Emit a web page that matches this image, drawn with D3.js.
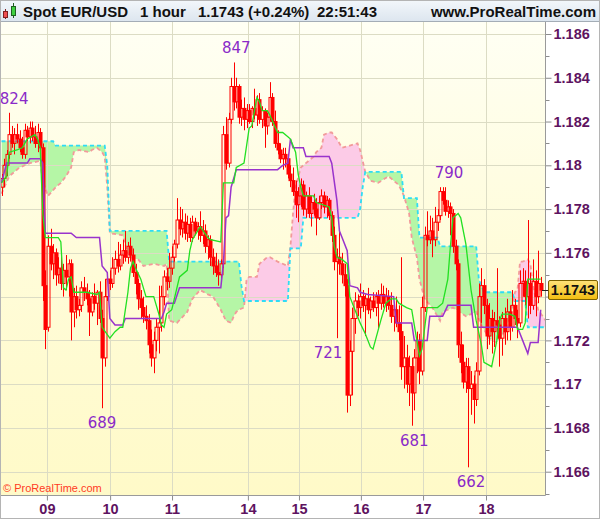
<!DOCTYPE html>
<html>
<head>
<meta charset="utf-8">
<script src="https://cdnjs.cloudflare.com/ajax/libs/d3/7.8.5/d3.min.js"></script>
<style>
    html, body { margin: 0; padding: 0; background: #ffffff; }
    #chart { width: 600px; height: 519px; }
    svg { display: block; }
</style>
</head>
<body>
<div id="chart"></div>
<script>
// Hourly EUR/USD candles, stored as pips above 1.1600
const BASE_PRICE = 1.16;
const PIP = 0.0001;

const candleOpen = [
    190, 194, 200, 205, 214, 210, 214, 212, 208, 205,
    216, 213, 217, 213, 210, 215, 208, 145, 126, 163,
    155, 160, 150, 153, 146, 152, 149, 155, 133, 140,
    134, 136, 144, 142, 139, 133, 140, 137, 142, 130,
    112, 140, 148, 146, 153, 157, 154, 159, 161, 158,
    163, 159, 151, 146, 139, 135, 131, 129, 118, 112,
    120, 126, 128, 140, 149, 147, 153, 158, 164, 175,
    171, 174, 169, 173, 167, 174, 170, 172, 168, 170,
    163, 166, 158, 154, 151, 150, 155, 214, 201, 221,
    236, 229, 236, 222, 226, 221, 225, 220, 226, 223,
    230, 221, 225, 218, 222, 231, 220, 210, 207, 203,
    205, 203, 196, 193, 188, 182, 186, 191, 180, 186,
    178, 183, 180, 176, 183, 186, 181, 184, 177, 168,
    156, 158, 155, 150, 145, 95, 115, 130, 138, 135,
    140, 136, 139, 134, 138, 135, 140, 137, 141, 137,
    140, 136, 131, 134, 128, 124, 108, 112, 100, 108,
    96, 112, 120, 106, 135, 168, 166, 170, 166, 174,
    177, 188, 184, 179, 181, 178, 163, 155, 118, 110,
    101, 108, 98, 100, 93, 106, 140, 145, 136, 122,
    130, 124, 129, 127, 121, 130, 124, 133, 126, 136,
    130, 128, 146, 147, 140, 146, 136, 147, 140, 146
];
const candleHigh = [
    196, 203, 207, 224, 218, 217, 219, 216, 213, 219,
    218, 220, 220, 218, 219, 217, 210, 152, 168, 171,
    164, 162, 158, 160, 155, 159, 157, 157, 144, 145,
    139, 147, 149, 146, 143, 142, 146, 143, 147, 134,
    148, 150, 152, 158, 161, 165, 164, 166, 170, 165,
    167, 162, 155, 148, 143, 140, 136, 132, 125, 124,
    130, 145, 145, 152, 153, 160, 163, 166, 185, 181,
    180, 178, 177, 176, 177, 176, 174, 179, 175, 173,
    168, 168, 162, 160, 157, 157, 218, 222, 224, 240,
    247, 240, 237, 230, 231, 228, 228, 227, 235, 232,
    233, 227, 226, 224, 238, 233, 225, 216, 210, 208,
    208, 205, 200, 199, 193, 190, 194, 193, 188, 190,
    186, 187, 185, 186, 189, 188, 186, 185, 179, 172,
    162, 170, 160, 155, 148, 120, 135, 142, 141, 146,
    143, 141, 144, 140, 142, 142, 143, 146, 145, 144,
    143, 142, 137, 140, 136, 158, 122, 118, 113, 112,
    116, 124, 123, 140, 172, 179, 177, 176, 181, 180,
    190, 190, 190, 184, 183, 180, 166, 157, 124, 118,
    112, 112, 106, 104, 110, 146, 153, 148, 139, 137,
    134, 133, 153, 131, 133, 135, 139, 136, 143, 139,
    134, 152, 153, 152, 175, 151, 157, 152, 161, 149
];
const candleLow = [
    186, 190, 195, 203, 208, 205, 210, 206, 203, 203,
    211, 210, 211, 208, 206, 205, 138, 116, 124, 152,
    148, 145, 146, 143, 140, 143, 140, 120, 126, 130,
    131, 133, 138, 136, 122, 131, 134, 127, 128, 89,
    108, 138, 143, 144, 150, 151, 152, 155, 156, 155,
    156, 149, 141, 134, 130, 128, 125, 114, 108, 105,
    115, 114, 124, 136, 143, 144, 150, 156, 162, 168,
    167, 166, 165, 165, 165, 168, 166, 165, 164, 160,
    157, 154, 150, 149, 145, 147, 153, 198, 199, 219,
    225, 226, 219, 218, 216, 217, 219, 217, 221, 218,
    219, 217, 208, 214, 220, 218, 208, 205, 201, 198,
    199, 194, 190, 186, 176, 174, 181, 177, 176, 176,
    172, 177, 168, 175, 180, 178, 176, 175, 165, 152,
    121, 150, 146, 140, 87, 90, 95, 123, 131, 130,
    133, 122, 132, 130, 133, 131, 125, 134, 135, 133,
    134, 128, 124, 126, 120, 102, 98, 96, 90, 81,
    88, 105, 100, 104, 133, 163, 164, 158, 163, 170,
    175, 182, 177, 176, 168, 160, 152, 112, 105, 98,
    96, 62, 86, 82, 90, 104, 128, 132, 116, 118,
    114, 117, 122, 108, 113, 118, 120, 120, 124, 127,
    121, 126, 140, 136, 130, 132, 134, 131, 137, 140
];
const candleClose = [
    194, 200, 205, 214, 210, 214, 212, 208, 205, 216,
    213, 217, 213, 210, 215, 208, 145, 125, 163, 155,
    160, 150, 153, 146, 152, 149, 155, 133, 140, 134,
    136, 144, 142, 139, 133, 140, 137, 142, 130, 112,
    140, 148, 146, 153, 157, 154, 159, 161, 158, 163,
    159, 151, 146, 139, 135, 131, 129, 118, 112, 120,
    126, 128, 140, 149, 147, 153, 158, 164, 175, 171,
    174, 169, 173, 167, 174, 170, 172, 168, 170, 163,
    166, 158, 154, 151, 150, 155, 214, 201, 221, 236,
    229, 236, 222, 226, 221, 225, 220, 226, 223, 230,
    221, 225, 218, 222, 231, 220, 210, 207, 203, 205,
    203, 196, 193, 188, 182, 186, 191, 180, 186, 178,
    183, 180, 176, 183, 186, 181, 184, 177, 168, 156,
    158, 155, 150, 145, 95, 115, 130, 138, 135, 140,
    136, 139, 134, 138, 135, 140, 137, 141, 137, 140,
    136, 131, 134, 128, 124, 108, 112, 100, 108, 96,
    112, 120, 106, 135, 168, 166, 170, 166, 174, 177,
    188, 184, 179, 181, 178, 163, 155, 118, 110, 101,
    108, 98, 100, 93, 106, 140, 145, 136, 122, 130,
    124, 129, 127, 121, 130, 124, 133, 126, 136, 130,
    128, 146, 147, 140, 146, 136, 147, 140, 146, 143
];

// Ichimoku lines: [bar index, pips above 1.1600]
const tenkanSen = [
    [0, 192], [2, 195], [3, 206], [6, 207], [8, 208], [10, 212], [13, 214], [14, 212], [15, 208],
    [16, 178], [17, 167], [22, 167], [23, 165], [24, 144], [25, 143], [26, 148], [27, 149], [28, 142],
    [33, 142], [37, 141], [38, 142], [39, 126], [42, 121], [44, 124], [46, 126], [47, 126], [49, 142],
    [50, 153], [51, 156], [52, 153], [54, 148], [56, 140], [59, 140], [61, 132], [62, 127], [63, 126],
    [64, 132], [66, 134], [69, 149], [72, 152], [73, 161], [74, 166], [77, 172], [80, 167], [81, 166],
    [85, 165], [86, 192], [90, 192], [91, 199], [94, 201], [96, 217], [97, 218], [99, 231], [100, 229],
    [101, 225], [103, 225], [104, 223], [107, 215], [109, 215], [111, 213], [112, 212], [114, 206],
    [115, 196], [116, 190], [117, 186], [121, 186], [122, 183], [127, 181], [128, 176], [129, 163],
    [130, 158], [132, 157], [134, 155], [135, 140], [139, 128], [141, 123], [143, 117], [144, 116],
    [147, 129], [149, 137], [151, 139], [153, 139], [154, 137], [157, 135], [159, 134], [161, 120],
    [162, 113], [163, 116], [165, 135], [169, 135], [171, 137], [173, 148], [174, 163], [175, 176],
    [177, 178], [178, 176], [180, 164], [182, 143], [184, 129], [186, 118], [187, 110], [190, 108],
    [192, 120], [193, 129], [194, 132], [197, 132], [199, 131], [200, 125], [202, 125], [203, 128],
    [204, 148], [206, 148], [209, 148]
];
const kijunSen = [
    [0, 192], [2, 201], [10, 201], [11, 203], [15, 203], [16, 201], [17, 169], [27, 169], [29, 167],
    [38, 167], [39, 154], [41, 151], [42, 130], [44, 127], [47, 127], [48, 130], [62, 130], [63, 133],
    [64, 137], [67, 137], [69, 144], [85, 144], [86, 155], [87, 176], [88, 177], [89, 190], [91, 198],
    [107, 198], [109, 200], [111, 201], [112, 212], [113, 208], [117, 208], [118, 204], [127, 204],
    [128, 201], [130, 184], [131, 170], [132, 167], [134, 161], [135, 145], [138, 144], [139, 142],
    [142, 141], [152, 140], [153, 128], [159, 128], [160, 120], [165, 120], [166, 131], [171, 131],
    [173, 136], [182, 136], [183, 126], [200, 126], [202, 120], [204, 114], [205, 119], [208, 119],
    [209, 134]
];
const senkouSpanA = [
    [0, 187], [3, 195], [7, 199], [11, 201], [15, 202], [16, 193], [18, 186], [21, 190], [23, 192],
    [25, 195], [27, 199], [28, 206], [30, 207], [34, 206], [35, 207], [37, 208], [39, 206], [40, 204],
    [41, 190], [42, 169],
    [47, 168], [49, 160], [50, 158], [53, 157], [55, 154], [59, 155], [63, 154], [64, 155], [65, 129],
    [68, 128], [72, 133], [74, 139], [77, 143], [80, 141], [82, 140], [85, 134], [87, 129], [89, 128],
    [90, 131], [91, 133], [92, 134], [94, 135], [95, 148], [96, 149], [99, 149], [100, 155], [103, 158],
    [104, 158], [107, 156], [111, 154], [112, 163], [113, 178], [114, 190], [116, 199], [118, 201],
    [119, 202], [121, 204], [122, 206], [124, 208], [125, 214], [127, 215], [128, 215], [130, 212],
    [132, 208], [135, 209], [138, 210], [139, 207], [140, 202], [141, 197], [143, 193], [146, 192],
    [150, 195], [152, 193], [154, 191], [156, 186], [158, 178], [159, 167], [161, 158], [162, 148],
    [164, 139], [167, 135], [170, 129], [171, 133], [175, 135], [180, 131], [184, 133], [186, 127],
    [189, 121], [192, 119], [194, 122], [196, 127], [198, 134], [199, 142], [200, 143], [201, 156],
    [202, 156], [204, 157], [205, 155], [206, 145], [208, 134], [211, 129]
];
const senkouSpanB = [
    [0, 211], [20, 211], [21, 209], [40, 209], [41, 200], [42, 170],
    [64, 170], [65, 156], [92, 156], [93, 145], [94, 138], [111, 138], [112, 162], [116, 162],
    [117, 176], [138, 176], [139, 180], [140, 190], [141, 197], [155, 197], [156, 185], [161, 185],
    [162, 167], [169, 167], [170, 163], [184, 163], [185, 148], [187, 142], [198, 142], [199, 138],
    [203, 138], [204, 126], [211, 126]
];

const dayLabels = ["09", "10", "11", "14", "15", "16", "17", "18"];
const dayStartBars = [17.6, 42.1, 66.1, 95.5, 115.3, 139.3, 163.4, 187.8];

const priceTicks = [1.166, 1.168, 1.17, 1.172, 1.174, 1.176, 1.178, 1.18, 1.182, 1.184, 1.186];
const minorPriceTicks = [1.165, 1.167, 1.169, 1.171, 1.173, 1.175, 1.177, 1.179, 1.181, 1.183, 1.185];

const swingLabels = ["824", "847", "689", "721", "681", "790", "662"];
const swingPrices = [1.1824, 1.1847, 1.1689, 1.1721, 1.1681, 1.1790, 1.1662];
const swingBars = [4.9, 91, 39, 126.6, 160, 173.5, 182];
const swingKinds = ["high", "high", "low", "low", "low", "high", "low"];

const headerTexts = ["Spot EUR/USD", "1 hour", "1.1743 (+0.24%)", "22:51:43"];
const headerSite = "www.ProRealTime.com";
const copyrightText = "\u00a9 ProRealTime.com";

(function () {
    "use strict";

    const width = 600;
    const height = 519;
    const plot = { left: 1, right: 545, top: 22, bottom: 495 };
    const labelColor = "#5e1360";
    const sansFont = "'Liberation Sans', Arial, sans-serif";

    const toPrice = pips => BASE_PRICE + pips * PIP;
    const lastPrice = toPrice(candleClose[candleClose.length - 1]);

    const xScale = d3.scaleLinear()
        .domain([0, 209])
        .range([1.5, 540.7]);

    const yScale = d3.scaleLinear()
        .domain([1.166, 1.186])
        .range([471.7, 34]);

    function addGradient(defs, id, stops) {
        const grad = defs.append("linearGradient")
            .attr("id", id)
            .attr("x1", 0).attr("y1", 0)
            .attr("x2", 0).attr("y2", 1);
        stops.forEach((color, i) => {
            grad.append("stop")
                .attr("offset", i / (stops.length - 1))
                .attr("stop-color", color);
        });
    }

    function drawHeader(svg) {
        const header = svg.append("g").attr("class", "header");

        header.append("rect")
            .attr("width", width)
            .attr("height", 21)
            .attr("fill", "url(#header-bg)");

        header.append("line")
            .attr("x1", 0).attr("x2", width)
            .attr("y1", 21.5).attr("y2", 21.5)
            .attr("stroke", "#a4adb6");

        // small candlestick icon
        const icon = header.append("g").attr("class", "icon");
        icon.append("line").attr("x1", 5.5).attr("x2", 5.5).attr("y1", 9).attr("y2", 19).attr("stroke", "#802020");
        icon.append("rect").attr("x", 3.5).attr("y", 11.5).attr("width", 4).attr("height", 6)
            .attr("fill", "#f05050").attr("stroke", "#802020");
        icon.append("line").attr("x1", 13.5).attr("x2", 13.5).attr("y1", 3).attr("y2", 18).attr("stroke", "#206020");
        icon.append("rect").attr("x", 11.5).attr("y", 6.5).attr("width", 4).attr("height", 9)
            .attr("fill", "#40d040").attr("stroke", "#206020");

        const positions = [23, 140, 198, 317];
        headerTexts.forEach((t, i) => {
            header.append("text")
                .attr("x", positions[i])
                .attr("y", 17)
                .attr("font-family", sansFont)
                .attr("font-weight", "bold")
                .attr("font-size", "15px")
                .attr("fill", "#111")
                .text(t);
        });

        header.append("text")
            .attr("x", 596)
            .attr("y", 17)
            .attr("text-anchor", "end")
            .attr("font-family", sansFont)
            .attr("font-weight", "bold")
            .attr("font-size", "15px")
            .attr("fill", "#111")
            .text(headerSite);
    }

    function drawGrid(canvas) {
        const grid = canvas.append("g")
            .attr("class", "grid")
            .attr("stroke", "#dcdcc4")
            .attr("stroke-width", 1);

        grid.selectAll(".h")
            .data(priceTicks)
            .enter()
            .append("line")
            .attr("x1", plot.left)
            .attr("x2", plot.right)
            .attr("y1", d => Math.round(yScale(d)) + 0.5)
            .attr("y2", d => Math.round(yScale(d)) + 0.5);

        grid.selectAll(".v")
            .data(dayStartBars)
            .enter()
            .append("line")
            .attr("x1", d => Math.round(xScale(d)) + 0.5)
            .attr("x2", d => Math.round(xScale(d)) + 0.5)
            .attr("y1", plot.top)
            .attr("y2", plot.bottom);
    }

    function drawCloud(canvas, defs) {
        const areaToTop = d3.area()
            .x(d => xScale(d[0]))
            .y0(plot.top - 5)
            .y1(d => yScale(toPrice(d[1])));

        const areaToBottom = d3.area()
            .x(d => xScale(d[0]))
            .y0(plot.bottom + 5)
            .y1(d => yScale(toPrice(d[1])));

        defs.append("clipPath").attr("id", "below-span-b")
            .append("path").attr("d", areaToBottom(senkouSpanB));
        defs.append("clipPath").attr("id", "below-span-a")
            .append("path").attr("d", areaToBottom(senkouSpanA));

        const cloud = canvas.append("g").attr("class", "cloud");

        // span B above span A -> green
        cloud.append("path")
            .attr("d", areaToTop(senkouSpanA))
            .attr("clip-path", "url(#below-span-b)")
            .attr("fill", "#b5f6a6");

        // span A above span B -> pink
        cloud.append("path")
            .attr("d", areaToTop(senkouSpanB))
            .attr("clip-path", "url(#below-span-a)")
            .attr("fill", "#fccbe7");
    }

    function drawSpans(canvas) {
        const line = d3.line()
            .x(d => xScale(d[0]))
            .y(d => yScale(toPrice(d[1])));

        const spans = canvas.append("g")
            .attr("class", "spans")
            .attr("fill", "none")
            .attr("stroke-width", 1.8)
            .attr("stroke-dasharray", "4,3");

        spans.append("path")
            .attr("d", line(senkouSpanA))
            .attr("stroke", "#f29a9a");

        spans.append("path")
            .attr("d", line(senkouSpanB))
            .attr("stroke", "#2fdcf5");
    }

    function drawCandles(canvas) {
        const candles = canvas.append("g")
            .attr("class", "candles")
            .attr("stroke", "#ff0000")
            .attr("stroke-width", 1);

        candleClose.forEach((c, i) => {
            const o = candleOpen[i];
            const x = Math.round(xScale(i)) + 0.5;
            const yHigh = yScale(toPrice(candleHigh[i]));
            const yLow = yScale(toPrice(candleLow[i]));
            const yTop = yScale(toPrice(Math.max(o, c)));
            const yBottom = yScale(toPrice(Math.min(o, c)));
            const g = candles.append("g");

            g.append("line")
                .attr("x1", x).attr("x2", x)
                .attr("y1", yHigh).attr("y2", yTop);
            g.append("line")
                .attr("x1", x).attr("x2", x)
                .attr("y1", yBottom).attr("y2", yLow);
            g.append("rect")
                .attr("x", x - 1.5)
                .attr("y", yTop)
                .attr("width", 3)
                .attr("height", Math.max(1, yBottom - yTop))
                .attr("fill", c < o ? "#ff0000" : "none");
        });
    }

    function drawLines(canvas) {
        const line = d3.line()
            .x(d => xScale(d[0]))
            .y(d => yScale(toPrice(d[1])));

        canvas.append("path")
            .attr("class", "kijun")
            .attr("d", line(kijunSen))
            .attr("fill", "none")
            .attr("stroke", "#9933cc")
            .attr("stroke-width", 1.5);

        canvas.append("path")
            .attr("class", "tenkan")
            .attr("d", line(tenkanSen))
            .attr("fill", "none")
            .attr("stroke", "#22e022")
            .attr("stroke-width", 1.3);
    }

    function drawSwingLabels(canvas) {
        canvas.append("g")
            .attr("class", "swings")
            .selectAll("text")
            .data(swingLabels)
            .enter()
            .append("text")
            .attr("x", (d, i) => xScale(swingBars[i]))
            .attr("y", (d, i) => yScale(swingPrices[i]) + (swingKinds[i] === "high" ? -9 : 20))
            .attr("text-anchor", "middle")
            .attr("font-family", "'DejaVu Sans', sans-serif")
            .attr("font-size", "15px")
            .attr("fill", "#8a2ac8")
            .text(d => d);
    }

    function drawAxes(svg) {
        const yAxis = d3.axisRight(yScale)
            .tickValues(priceTicks)
            .tickSize(6)
            .tickPadding(2)
            .tickFormat(d3.format(".3~f"));

        const yAxisGroup = svg.append("g")
            .attr("class", "axis y-axis")
            .attr("transform", `translate(${plot.right + 0.5},0)`)
            .call(yAxis);

        yAxisGroup.select(".domain").remove();
        yAxisGroup.selectAll(".tick line").attr("stroke", "#8c8c8c");
        yAxisGroup.selectAll(".tick text")
            .attr("font-family", sansFont)
            .attr("font-weight", "bold")
            .attr("font-size", "14.5px")
            .attr("fill", labelColor);

        // the tick label sitting under the last-price box is hidden by it
        yAxisGroup.selectAll(".tick")
            .filter(d => Math.abs(yScale(d) - yScale(lastPrice)) < 12)
            .select("text")
            .remove();

        yAxisGroup.selectAll(".minor")
            .data(minorPriceTicks)
            .enter()
            .append("line")
            .attr("class", "minor")
            .attr("x1", 0).attr("x2", 4)
            .attr("y1", d => Math.round(yScale(d)) + 0.5)
            .attr("y2", d => Math.round(yScale(d)) + 0.5)
            .attr("stroke", "#8c8c8c");

        const xAxis = d3.axisBottom(xScale)
            .tickValues(dayStartBars)
            .tickSize(5)
            .tickPadding(3)
            .tickFormat((d, i) => dayLabels[i]);

        const xAxisGroup = svg.append("g")
            .attr("class", "axis x-axis")
            .attr("transform", `translate(0,${plot.bottom + 0.5})`)
            .call(xAxis);

        xAxisGroup.select(".domain").remove();
        xAxisGroup.selectAll(".tick line").attr("stroke", "#8c8c8c");
        xAxisGroup.selectAll(".tick text")
            .attr("font-family", sansFont)
            .attr("font-weight", "bold")
            .attr("font-size", "14.5px")
            .attr("fill", labelColor);

        svg.append("line")
            .attr("x1", plot.right + 0.5).attr("x2", plot.right + 0.5)
            .attr("y1", plot.top).attr("y2", plot.bottom + 0.5)
            .attr("stroke", "#9a9a9a");
        svg.append("line")
            .attr("x1", 0).attr("x2", plot.right + 0.5)
            .attr("y1", plot.bottom + 0.5).attr("y2", plot.bottom + 0.5)
            .attr("stroke", "#9a9a9a");
        svg.append("line")
            .attr("x1", 0.5).attr("x2", 0.5)
            .attr("y1", plot.top).attr("y2", plot.bottom)
            .attr("stroke", "#a8a8a8");
    }

    function drawLastPrice(svg) {
        const y = Math.round(yScale(lastPrice));

        svg.append("line")
            .attr("x1", 542).attr("x2", 549)
            .attr("y1", y + 0.5).attr("y2", y + 0.5)
            .attr("stroke", "#222");

        svg.append("rect")
            .attr("x", 548.5)
            .attr("y", y - 9.5)
            .attr("width", 49)
            .attr("height", 19)
            .attr("rx", 1.5)
            .attr("fill", "url(#price-bg)")
            .attr("stroke", "#7d6200");

        svg.append("text")
            .attr("x", 573)
            .attr("y", y + 5)
            .attr("text-anchor", "middle")
            .attr("font-family", sansFont)
            .attr("font-weight", "bold")
            .attr("font-size", "14.5px")
            .attr("fill", "#111")
            .text(d3.format(".4f")(lastPrice));
    }

    function drawChart(selection) {
        const svg = selection.append("svg")
            .attr("width", width)
            .attr("height", height);

        const defs = svg.append("defs");
        addGradient(defs, "header-bg", ["#f3f7fb", "#dde6ef"]);
        addGradient(defs, "plot-bg", ["#fffff4", "#fffcd9", "#fffac8"]);
        addGradient(defs, "price-bg", ["#ffe27a", "#f2bd10"]);

        defs.append("clipPath").attr("id", "plot-clip")
            .append("rect")
            .attr("x", plot.left)
            .attr("y", plot.top)
            .attr("width", plot.right - plot.left)
            .attr("height", plot.bottom - plot.top);

        svg.append("rect")
            .attr("width", width)
            .attr("height", height)
            .attr("fill", "#ffffff");

        svg.append("rect")
            .attr("x", plot.left)
            .attr("y", plot.top)
            .attr("width", plot.right - plot.left)
            .attr("height", plot.bottom - plot.top)
            .attr("fill", "url(#plot-bg)");

        drawHeader(svg);

        const canvas = svg.append("g")
            .attr("class", "canvas")
            .attr("clip-path", "url(#plot-clip)");

        drawCloud(canvas, defs);
        drawGrid(canvas);
        drawSpans(canvas);
        drawCandles(canvas);
        drawLines(canvas);
        drawSwingLabels(canvas);

        canvas.append("text")
            .attr("x", 3)
            .attr("y", 492)
            .attr("font-family", sansFont)
            .attr("font-size", "11px")
            .attr("fill", "#ff3b1f")
            .text(copyrightText);

        drawAxes(svg);
        drawLastPrice(svg);

        svg.append("rect")
            .attr("x", 0.5).attr("y", 0.5)
            .attr("width", width - 1).attr("height", height - 1)
            .attr("fill", "none")
            .attr("stroke", "#b4b4b4");
    }

    d3.select("#chart").call(drawChart);
}());
</script>
</body>
</html>
